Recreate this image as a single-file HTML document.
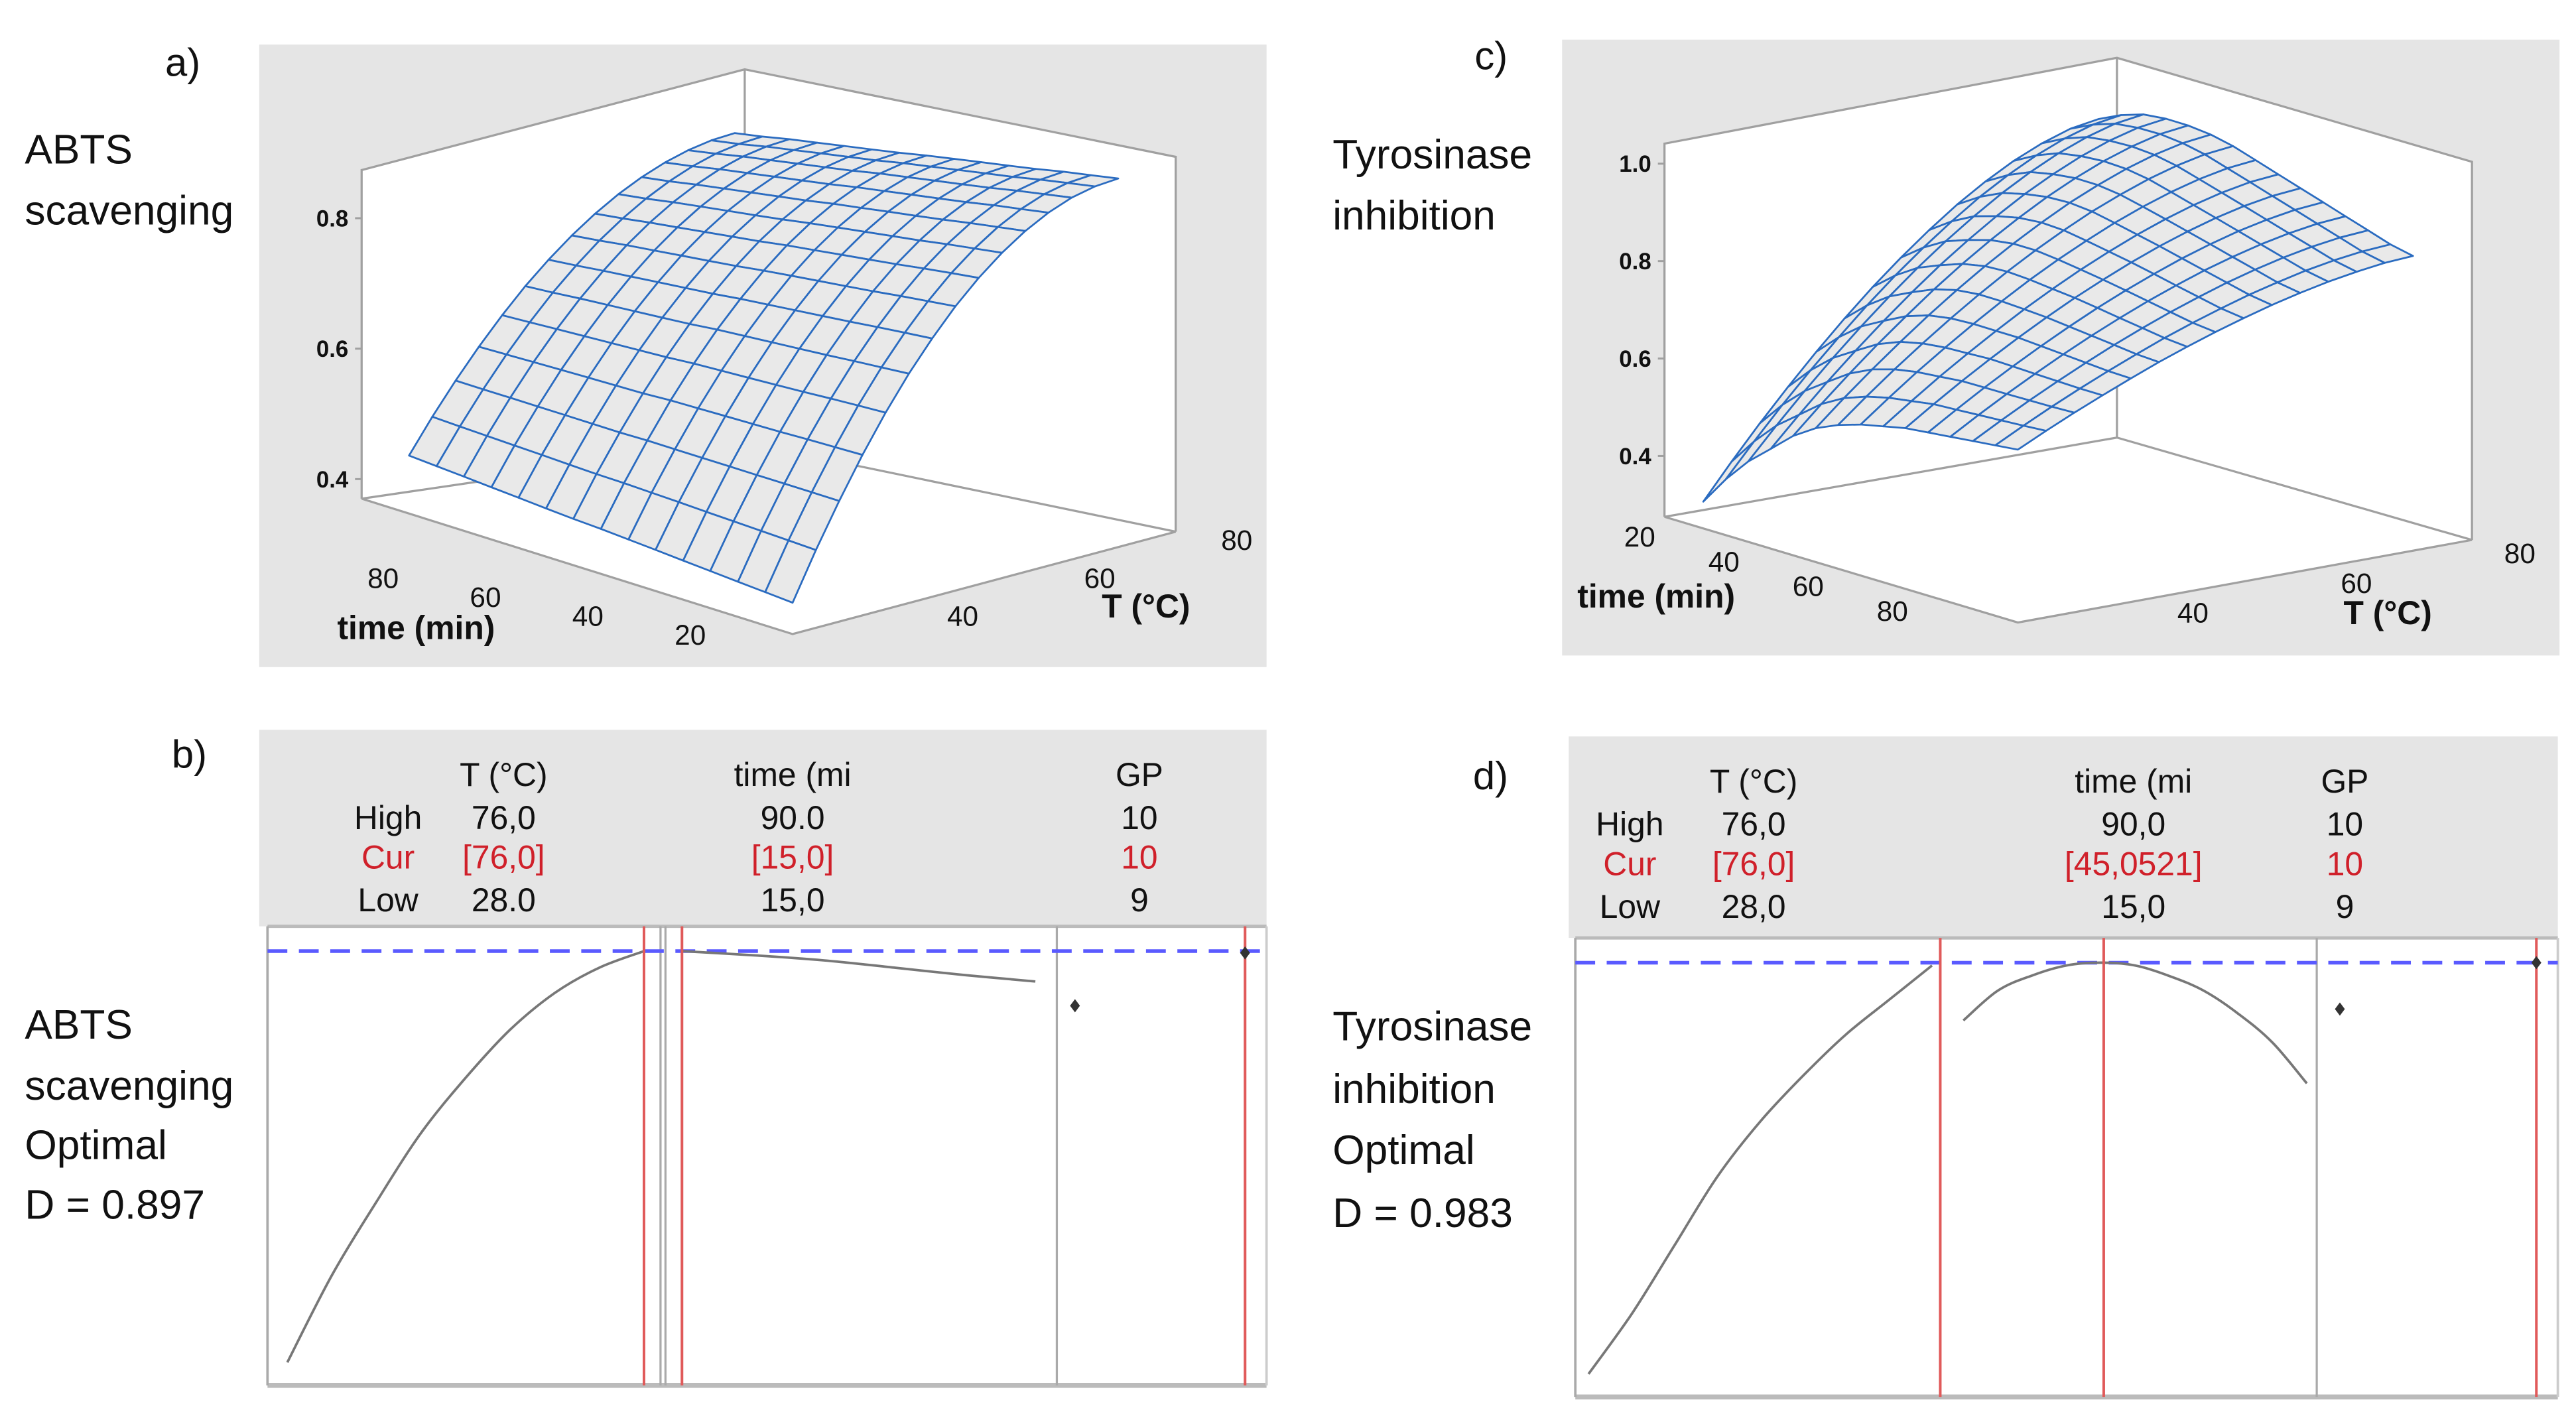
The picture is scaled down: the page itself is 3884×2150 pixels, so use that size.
<!DOCTYPE html>
<html><head><meta charset="utf-8"><style>
html,body{margin:0;padding:0;background:#fff}
svg{display:block}
text{font-family:"Liberation Sans",sans-serif}
</style></head><body>
<svg id="fig" width="3884" height="2150" viewBox="0 0 1560 863.6" preserveAspectRatio="none" xmlns="http://www.w3.org/2000/svg">
<rect x="0" y="0" width="1560" height="863.6" fill="#fff"/>
<g>
<rect x="157" y="27" width="610" height="377" fill="#e5e5e5"/>
<text x="100" y="46" font-size="24" fill="#111">a)</text>
<text x="15" y="99" font-size="25" fill="#111">ABTS</text>
<text x="15" y="136" font-size="25" fill="#111">scavenging</text>
<g id="boxA"></g>
<g id="surfA"></g>
<g id="frontA"></g>
</g>
<g>
<rect x="946" y="24" width="604" height="373" fill="#e5e5e5"/>
<text x="893" y="42" font-size="24" fill="#111">c)</text>
<text x="807" y="102" font-size="25" fill="#111">Tyrosinase</text>
<text x="807" y="139" font-size="25" fill="#111">inhibition</text>
<g id="boxC"></g>
<g id="surfC"></g>
<g id="frontC"></g>
</g>
<g>
<text x="104" y="465" font-size="24" fill="#111">b)</text>
<text x="15" y="629" font-size="25" fill="#111">ABTS</text>
<text x="15" y="666" font-size="25" fill="#111">scavenging</text>
<text x="15" y="702" font-size="25" fill="#111">Optimal</text>
<text x="15" y="738" font-size="25" fill="#111">D = 0.897</text>
<g id="profB"></g>
</g>
<g>
<text x="892" y="478" font-size="24" fill="#111">d)</text>
<text x="807" y="630" font-size="25" fill="#111">Tyrosinase</text>
<text x="807" y="668" font-size="25" fill="#111">inhibition</text>
<text x="807" y="705" font-size="25" fill="#111">Optimal</text>
<text x="807" y="743" font-size="25" fill="#111">D = 0.983</text>
<g id="profD"></g>
</g>
</svg>
<script>
// ===== Panel a data =====
const aTimeFrac = [0,0.0636,0.127,0.191,0.254,0.318,0.381,0.445,0.509,0.572,0.636,0.699,0.763,0.826,0.89];
const aZLowT  = [0.418,0.421,0.424,0.427,0.430,0.433,0.436,0.439,0.441,0.444,0.447,0.450,0.453,0.456,0.459];
const aZHighT = [0.935,0.927,0.919,0.910,0.902,0.894,0.886,0.878,0.869,0.861,0.853,0.845,0.837,0.828,0.820];
const aTempWeight = [0,0.138,0.265,0.383,0.490,0.587,0.673,0.75,0.816,0.872,0.918,0.954,0.98,0.995,1];
const aZTicks = [0.4,0.6,0.8];
const aTimeTicks = [80,60,40,20];
const aTempTicks = [40,60,80];
// ===== Panel c data =====
const cTimeFrac = [0.11,0.174,0.237,0.301,0.364,0.428,0.491,0.555,0.619,0.682,0.746,0.809,0.873,0.936,1];
const cZLowT  = [0.33,0.39,0.44,0.48,0.52,0.55,0.57,0.585,0.595,0.605,0.61,0.615,0.62,0.625,0.63];
const cZHighT = [0.968,0.99,1.005,1.01,1.01,1.005,0.995,0.98,0.965,0.95,0.935,0.92,0.905,0.89,0.88];
const cTempWeight = [0,0.112,0.219,0.320,0.416,0.507,0.592,0.670,0.742,0.808,0.865,0.915,0.955,0.985,1];
const cZTicks = [0.4,0.6,0.8,1.0];
const cTimeTicks = [20,40,60,80];
const cTempTicks = [40,60,80];
// ===== Panel b data =====
const bTemp = [28,34,40,46,52,58,64,70,76];
const bTempD = [0.05,0.24,0.40,0.55,0.67,0.775,0.855,0.91,0.946];
const bTime = [15,30,45,60,75,90];
const bTimeD = [0.946,0.937,0.926,0.91,0.894,0.88];
const bGP = [0.827,0.942];
const bRows = [["","T (°C)","time (mi","GP"],["High","76,0","90.0","10"],["Cur","[76,0]","[15,0]","10"],["Low","28.0","15,0","9"]];
// ===== Panel d data =====
const dTemp = [28,34,40,46,52,58,64,70,76];
const dTempD = [0.05,0.18,0.33,0.48,0.60,0.70,0.79,0.865,0.94];
const dTime = [15,22.5,30,37.5,45,52.5,60,67.5,75,82.5,90];
const dTimeD = [0.82,0.885,0.918,0.94,0.946,0.94,0.917,0.885,0.835,0.772,0.683];
const dGP = [0.845,0.946];
const dRows = [["","T (°C)","time (mi","GP"],["High","76,0","90,0","10"],["Cur","[76,0]","[45,0521]","10"],["Low","28,0","15,0","9"]];

const NS="http://www.w3.org/2000/svg";
function mk(parent,tag,attrs,txt){const e=document.createElementNS(NS,tag);for(const k in attrs)e.setAttribute(k,attrs[k]);if(txt!==undefined)e.textContent=txt;parent.appendChild(e);return e;}
function smoothPath(pts){
  let d='M'+pts[0][0].toFixed(1)+','+pts[0][1].toFixed(1);
  for(let i=0;i<pts.length-1;i++){
    const p0=pts[Math.max(i-1,0)],p1=pts[i],p2=pts[i+1],p3=pts[Math.min(i+2,pts.length-1)];
    const c1=[p1[0]+(p2[0]-p0[0])/6,p1[1]+(p2[1]-p0[1])/6],c2=[p2[0]-(p3[0]-p1[0])/6,p2[1]-(p3[1]-p1[1])/6];
    d+=' C'+c1.map(v=>v.toFixed(1)).join(',')+' '+c2.map(v=>v.toFixed(1)).join(',')+' '+p2.map(v=>v.toFixed(1)).join(',');
  }
  return d;
}

function surface3d(cfg){
  const box=document.getElementById(cfg.boxId), surf=document.getElementById(cfg.surfId), front=document.getElementById(cfg.frontId);
  const O=cfg.O, tv=cfg.tv, Tv=cfg.Tv;
  const floorPt=(u,v)=>[O[0]+u*tv[0]+v*Tv[0], O[1]+u*tv[1]+v*Tv[1]];
  const proj=(u,v,z)=>{const p=floorPt(u,v);return [p[0], p[1]-(z-cfg.zFloor)*cfg.zScale];};
  const c=cfg.box;
  const hull=mk(box,'polygon',{points:[c.Lt,c.Bt,c.Rt,c.R,c.F,c.L].map(p=>p.join(',')).join(' '),fill:'#fff'});
  
  
  const st={stroke:'#a0a0a0','stroke-width':1.3,fill:'none'};
  [[c.L,c.Lt,c.Bt,c.Rt,c.R],[c.B,c.Bt],[c.L,c.B,c.R],[c.L,c.F,c.R]].forEach(l=>{const ln=mk(box,'polyline',Object.assign({points:l.map(p=>p.join(',')).join(' ')},st));});
  const ax=cfg.zAxisX, ab=cfg.zAxisBase;
  cfg.zTicks.forEach(z=>{const y=ab-(z-cfg.zFloor)*cfg.zScale;
    mk(box,'line',{x1:ax-4,y1:y,x2:ax,y2:y,stroke:'#a0a0a0','stroke-width':1.2});
    const t=mk(box,'text',{x:ax-8,y:y+5,'font-size':14,'font-weight':'bold','text-anchor':'end',fill:'#111'},z.toFixed(1));
    });
  const n=cfg.tf.length, m=cfg.w.length;
  const Z=(i,j)=>cfg.zl[i]+cfg.w[j]*(cfg.zh[i]-cfg.zl[i]);
  const V=j=>cfg.vMax*j/(m-1);
  const cells=[];
  for(let i=0;i<n-1;i++)for(let j=0;j<m-1;j++){cells.push({i,j,d:cfg.depth((cfg.tf[i]+cfg.tf[i+1])/2,(V(j)+V(j+1))/2)});}
  cells.sort((a,b)=>b.d-a.d);
  cells.forEach(cl=>{const {i,j}=cl;
    const pts=[proj(cfg.tf[i],V(j),Z(i,j)),proj(cfg.tf[i+1],V(j),Z(i+1,j)),proj(cfg.tf[i+1],V(j+1),Z(i+1,j+1)),proj(cfg.tf[i],V(j+1),Z(i,j+1))];
    const p=mk(surf,'polygon',{points:pts.map(q=>q.map(x=>x.toFixed(1)).join(',')).join(' '),fill:'#e9e9e9',stroke:'#2a6bc0','stroke-width':1.1,'stroke-linejoin':'round'});
    
    
  });
  cfg.labels.forEach(L=>{const t=mk(front,'text',{x:L[0],y:L[1],'font-size':L[3]||17,'font-weight':L[4]||'normal','text-anchor':'middle',fill:'#111'},L[2]);
    });
}

const aTimeLab=aTimeTicks.map((t,k)=>[232+k*62,356+k*11.5,String(t)]);
const aTempLab=aTempTicks.map((t,k)=>[583+k*83,379-k*23,String(t)]);
surface3d({boxId:'boxA',surfId:'surfA',frontId:'frontA',O:[480,384],tv:[-261,-82],Tv:[232,-62],zFloor:0.37,zScale:395,
 box:{L:[219,302],Lt:[219,103],B:[451,268],Bt:[451,42],R:[712,322],Rt:[712,95],F:[480,384]},
 tf:aTimeFrac,zl:aZLowT,zh:aZHighT,w:aTempWeight,vMax:0.85,depth:(u,v)=>u+v,
 zAxisX:219,zAxisBase:302,zTicks:aZTicks,
 labels:aTimeLab.concat(aTempLab).concat([[252,387,'time (min)',20,'bold','x-axis-title-a'],[694,374,'T (°C)',20,'bold','y-axis-title-a']])});
const cTimeLab=cTimeTicks.map((t,k)=>[993+k*51,331+k*15,String(t)]);
const cTempLab=cTempTicks.map((t,k)=>[1328+k*99,377-k*18,String(t)]);
surface3d({boxId:'boxC',surfId:'surfC',frontId:'frontC',O:[1008,313],tv:[214,64],Tv:[275,-50],zFloor:0.275,zScale:295,
 box:{L:[1008,313],Lt:[1008,87],B:[1282,265],Bt:[1282,35],R:[1497,327],Rt:[1497,98],F:[1222,377]},
 tf:cTimeFrac,zl:cZLowT,zh:cZHighT,w:cTempWeight,vMax:0.87,depth:(u,v)=>(1-u)+v,
 zAxisX:1008,zAxisBase:313,zTicks:cZTicks,
 labels:cTimeLab.concat(cTempLab).concat([[1003,368,'time (min)',20,'bold','x-axis-title-c'],[1446,378,'T (°C)',20,'bold','y-axis-title-c']])});

function profiler(cfg){
  const g=document.getElementById(cfg.id);
  const hdr=mk(g,'rect',{x:cfg.hx0,y:cfg.hy0,width:cfg.x1-cfg.hx0,height:cfg.y0-cfg.hy0,fill:'#e5e5e5'});
  
  cfg.rows.forEach((r,ri)=>r.forEach((s,ci)=>{ if(!s)return;
    const red=ri===2;
    const t=mk(g,'text',{x:cfg.colX[ci],y:cfg.rowY[ri],'font-size':20,'text-anchor':'middle',fill:red?'#d0202a':'#111'},s);
    }));
  mk(g,'rect',{x:cfg.x0,y:cfg.y0,width:cfg.x1-cfg.x0,height:cfg.y1-cfg.y0,fill:'#fff'});
  mk(g,'line',{x1:cfg.x0,y1:cfg.y0,x2:cfg.x1,y2:cfg.y0,stroke:'#bbb','stroke-width':2});
  mk(g,'line',{x1:cfg.x0,y1:cfg.y1,x2:cfg.x1,y2:cfg.y1,stroke:'#bbb','stroke-width':3});
  mk(g,'line',{x1:cfg.x0,y1:cfg.y0,x2:cfg.x0,y2:cfg.y1,stroke:'#aaa','stroke-width':1.5});
  mk(g,'line',{x1:cfg.x1,y1:cfg.y0,x2:cfg.x1,y2:cfg.y1,stroke:'#ccc','stroke-width':1.5});
  cfg.grayX.forEach(x=>mk(g,'line',{x1:x,y1:cfg.y0,x2:x,y2:cfg.y1,stroke:'#aaa','stroke-width':1.3}));
  const yS=v=>cfg.y1-v*(cfg.y1-cfg.y0);
  const dash=mk(g,'line',{x1:cfg.x0,y1:yS(cfg.opt),x2:cfg.x1,y2:yS(cfg.opt),stroke:'#5a5aff','stroke-width':2.2,'stroke-dasharray':'12 7'});
  
  const xT=t=>cfg.tx0+(t-28)/(76-28)*(cfg.tx1-cfg.tx0);
  const xM=t=>cfg.mx0+(t-15)/(90-15)*(cfg.mx1-cfg.mx0);
  const c1=mk(g,'path',{d:smoothPath(cfg.temp.map((t,k)=>[xT(t),yS(cfg.tempD[k])])),fill:'none',stroke:'#777','stroke-width':1.5});
  
  const c2=mk(g,'path',{d:smoothPath(cfg.time.map((t,k)=>[xM(t),yS(cfg.timeD[k])])),fill:'none',stroke:'#777','stroke-width':1.5});
  
  cfg.redX.forEach(x=>{const l=mk(g,'line',{x1:x,y1:cfg.y0,x2:x,y2:cfg.y1,stroke:'#e05a5a','stroke-width':1.6});
    });
  cfg.gp.forEach((v,k)=>{const x=cfg.gpX[k],y=yS(v);
    const d=mk(g,'polygon',{points:`${x},${y-4} ${x+3},${y} ${x},${y+4} ${x-3},${y}`,fill:'#333'});
    });
}
profiler({id:'profB',hx0:157,hy0:442,x0:162,x1:767,y0:561,y1:839,rows:bRows,colX:[235,305,480,690],rowY:[476,502,526,552],
 grayX:[400,403,640],redX:[390,413,754],opt:0.946,tx0:174,tx1:390,mx0:413,mx1:627,temp:bTemp,tempD:bTempD,time:bTime,timeD:bTimeD,gp:bGP,gpX:[651,754]});
profiler({id:'profD',hx0:950,hy0:446,x0:954,x1:1549,y0:568,y1:846,rows:dRows,colX:[987,1062,1292,1420],rowY:[480,506,530,556],
 grayX:[1403],redX:[1175,1274,1536],opt:0.946,tx0:962,tx1:1170,mx0:1189,mx1:1397,temp:dTemp,tempD:dTempD,time:dTime,timeD:dTimeD,gp:dGP,gpX:[1417,1536]});
</script>
</body></html>
